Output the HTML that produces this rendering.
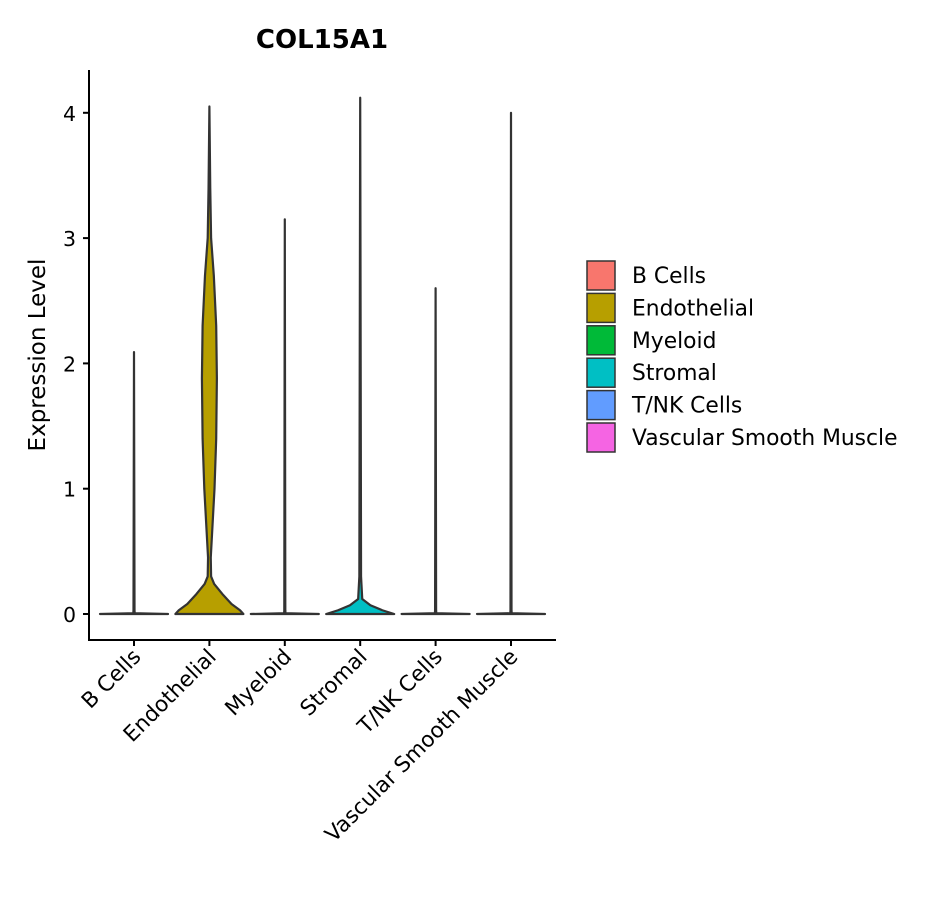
<!DOCTYPE html>
<html><head><meta charset="utf-8"><style>
body{margin:0;background:#fff;font-family:"DejaVu Sans","Liberation Sans",sans-serif;}
</style></head><body>
<svg id="chart" width="944" height="900" xmlns="http://www.w3.org/2000/svg" font-family="DejaVu Sans, Liberation Sans, sans-serif">
<text x="322" y="48" text-anchor="middle" font-size="26" font-weight="bold" fill="#000">COL15A1</text>
<text transform="translate(45,355) rotate(-90)" text-anchor="middle" font-size="23" fill="#000">Expression Level</text>
<g id="plot"></g>
<g id="legend"></g>
</svg>
<script>
const categories=["B Cells","Endothelial","Myeloid","Stromal","T/NK Cells","Vascular Smooth Muscle"];
const colors=["#F8766D","#B79F00","#00BA38","#00BFC4","#619CFF","#F564E3"];
const maxValues=[2.09,4.05,3.15,4.12,2.6,4.0];
const yTicks=[0,1,2,3,4];
// violin profiles: [value, relative half-width]
const profileB=[[0,1],[0.006,0.02],[0.03,0.015],[2.09,0.0]];
const profileEndo=[[0,1],[0.03,0.9],[0.08,0.65],[0.16,0.38],[0.24,0.14],[0.3,0.05],[0.45,0.04],[0.65,0.08],[1.0,0.15],[1.4,0.2],[1.88,0.22],[2.3,0.2],[2.7,0.13],[3.0,0.05],[3.4,0.025],[4.05,0.0]];
const profileMye=[[0,1],[0.006,0.02],[0.03,0.015],[3.15,0.0]];
const profileStro=[[0,1],[0.03,0.65],[0.07,0.3],[0.12,0.06],[0.3,0.025],[4.12,0.0]];
const profileTNK=[[0,1],[0.006,0.02],[0.03,0.015],[2.6,0.0]];
const profileVSM=[[0,1],[0.006,0.02],[0.03,0.015],[4.0,0.0]];
const profiles=[profileB,profileEndo,profileMye,profileStro,profileTNK,profileVSM];
const NS="http://www.w3.org/2000/svg";
const plot=document.getElementById('plot');
const x0=89,x1=556,yBase=614,pxPerUnit=125.3;
const xs=i=>134+i*75.4;
const ys=v=>yBase-v*pxPerUnit;
const halfMax=34;
function mk(t,a,p){const e=document.createElementNS(NS,t);for(const k in a)e.setAttribute(k,a[k]);(p||plot).appendChild(e);return e;}
let ax=mk('line',{x1:x0,y1:70,x2:x0,y2:641,stroke:'#000','stroke-width':2});


ax=mk('line',{x1:x0-1,y1:640,x2:x1,y2:640,stroke:'#000','stroke-width':2});


yTicks.forEach(t=>{
 const y=ys(t);
 const l=mk('line',{x1:x0-6,y1:y,x2:x0,y2:y,stroke:'#000','stroke-width':2});
 
 
 const tx=mk('text',{x:x0-13,y:y+8,'text-anchor':'end','font-size':20.5,fill:'#000'});
 tx.textContent=t;
 
 
});
categories.forEach((c,i)=>{
 const cx=xs(i);
 const pr=profiles[i];
 let d='';
 pr.forEach((p,j)=>{d+=(j?'L':'M')+(cx+p[1]*halfMax)+','+ys(p[0]);});
 for(let j=pr.length-1;j>=0;j--){d+='L'+(cx-pr[j][1]*halfMax)+','+ys(pr[j][0]);}
 d+='Z';
 const v=mk('path',{d:d,fill:colors[i],stroke:'#333','stroke-width':2.2,'stroke-linejoin':'round'});
 
 
 const tk=mk('line',{x1:cx,y1:640,x2:cx,y2:646,stroke:'#000','stroke-width':2});
 
 
 const tx=mk('text',{transform:`translate(${cx+8},${658}) rotate(-45)`,'text-anchor':'end','font-size':21.5,fill:'#000'});
 tx.textContent=c;
 
 
});
const lg=document.getElementById('legend');
categories.forEach((c,i)=>{
 const y=261+i*32.4;
 const r=mk('rect',{x:587,y:y,width:28,height:29,fill:colors[i],stroke:'#333','stroke-width':1.5},lg);
 
 
 const t=mk('text',{x:632,y:y+22,'font-size':21.8,fill:'#000'},lg);
 t.textContent=c;
 
 
});
</script>
</body></html>
